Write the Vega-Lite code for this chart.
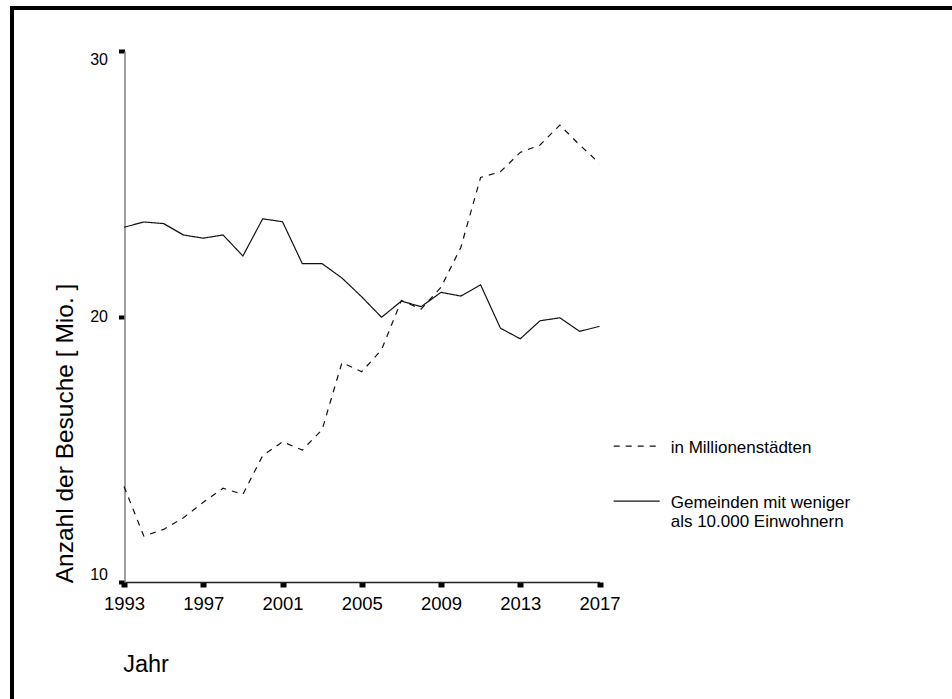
{
  "$schema": "https://vega.github.io/schema/vega-lite/v6.json",
  "autosize": "none",
  "width": 948,
  "height": 699,
  "padding": {"left": 12, "top": 8, "right": -8, "bottom": -8},
  "background": "white",
  "config": {
    "font": "Liberation Sans",
    "view": {"stroke": "black", "strokeWidth": 4},
    "axis": {"grid": false, "labelColor": "black", "titleColor": "black", "titleFontWeight": "normal"},
    "legend": {"padding": 0, "offset": 0}
  },
  "data": {
    "values": [
      {"Jahr": 1993, "Serie": "in Millionenstädten", "Besuche": 13.6},
      {"Jahr": 1994, "Serie": "in Millionenstädten", "Besuche": 11.73},
      {"Jahr": 1995, "Serie": "in Millionenstädten", "Besuche": 11.98},
      {"Jahr": 1996, "Serie": "in Millionenstädten", "Besuche": 12.42},
      {"Jahr": 1997, "Serie": "in Millionenstädten", "Besuche": 13.0},
      {"Jahr": 1998, "Serie": "in Millionenstädten", "Besuche": 13.53},
      {"Jahr": 1999, "Serie": "in Millionenstädten", "Besuche": 13.3},
      {"Jahr": 2000, "Serie": "in Millionenstädten", "Besuche": 14.76},
      {"Jahr": 2001, "Serie": "in Millionenstädten", "Besuche": 15.28},
      {"Jahr": 2002, "Serie": "in Millionenstädten", "Besuche": 14.97},
      {"Jahr": 2003, "Serie": "in Millionenstädten", "Besuche": 15.74},
      {"Jahr": 2004, "Serie": "in Millionenstädten", "Besuche": 18.26},
      {"Jahr": 2005, "Serie": "in Millionenstädten", "Besuche": 17.92},
      {"Jahr": 2006, "Serie": "in Millionenstädten", "Besuche": 18.75},
      {"Jahr": 2007, "Serie": "in Millionenstädten", "Besuche": 20.6},
      {"Jahr": 2008, "Serie": "in Millionenstädten", "Besuche": 20.28},
      {"Jahr": 2009, "Serie": "in Millionenstädten", "Besuche": 21.1},
      {"Jahr": 2010, "Serie": "in Millionenstädten", "Besuche": 22.6},
      {"Jahr": 2011, "Serie": "in Millionenstädten", "Besuche": 25.24},
      {"Jahr": 2012, "Serie": "in Millionenstädten", "Besuche": 25.45},
      {"Jahr": 2013, "Serie": "in Millionenstädten", "Besuche": 26.18},
      {"Jahr": 2014, "Serie": "in Millionenstädten", "Besuche": 26.46},
      {"Jahr": 2015, "Serie": "in Millionenstädten", "Besuche": 27.21},
      {"Jahr": 2016, "Serie": "in Millionenstädten", "Besuche": 26.46},
      {"Jahr": 2017, "Serie": "in Millionenstädten", "Besuche": 25.77},
      {"Jahr": 1993, "Serie": "Gemeinden mit weniger als 10.000 Einwohnern", "Besuche": 23.36},
      {"Jahr": 1994, "Serie": "Gemeinden mit weniger als 10.000 Einwohnern", "Besuche": 23.56},
      {"Jahr": 1995, "Serie": "Gemeinden mit weniger als 10.000 Einwohnern", "Besuche": 23.5},
      {"Jahr": 1996, "Serie": "Gemeinden mit weniger als 10.000 Einwohnern", "Besuche": 23.07},
      {"Jahr": 1997, "Serie": "Gemeinden mit weniger als 10.000 Einwohnern", "Besuche": 22.95},
      {"Jahr": 1998, "Serie": "Gemeinden mit weniger als 10.000 Einwohnern", "Besuche": 23.07},
      {"Jahr": 1999, "Serie": "Gemeinden mit weniger als 10.000 Einwohnern", "Besuche": 22.28},
      {"Jahr": 2000, "Serie": "Gemeinden mit weniger als 10.000 Einwohnern", "Besuche": 23.68},
      {"Jahr": 2001, "Serie": "Gemeinden mit weniger als 10.000 Einwohnern", "Besuche": 23.57},
      {"Jahr": 2002, "Serie": "Gemeinden mit weniger als 10.000 Einwohnern", "Besuche": 21.99},
      {"Jahr": 2003, "Serie": "Gemeinden mit weniger als 10.000 Einwohnern", "Besuche": 21.99},
      {"Jahr": 2004, "Serie": "Gemeinden mit weniger als 10.000 Einwohnern", "Besuche": 21.45},
      {"Jahr": 2005, "Serie": "Gemeinden mit weniger als 10.000 Einwohnern", "Besuche": 20.74},
      {"Jahr": 2006, "Serie": "Gemeinden mit weniger als 10.000 Einwohnern", "Besuche": 19.97},
      {"Jahr": 2007, "Serie": "Gemeinden mit weniger als 10.000 Einwohnern", "Besuche": 20.58},
      {"Jahr": 2008, "Serie": "Gemeinden mit weniger als 10.000 Einwohnern", "Besuche": 20.37},
      {"Jahr": 2009, "Serie": "Gemeinden mit weniger als 10.000 Einwohnern", "Besuche": 20.91},
      {"Jahr": 2010, "Serie": "Gemeinden mit weniger als 10.000 Einwohnern", "Besuche": 20.77},
      {"Jahr": 2011, "Serie": "Gemeinden mit weniger als 10.000 Einwohnern", "Besuche": 21.19},
      {"Jahr": 2012, "Serie": "Gemeinden mit weniger als 10.000 Einwohnern", "Besuche": 19.56},
      {"Jahr": 2013, "Serie": "Gemeinden mit weniger als 10.000 Einwohnern", "Besuche": 19.16},
      {"Jahr": 2014, "Serie": "Gemeinden mit weniger als 10.000 Einwohnern", "Besuche": 19.84},
      {"Jahr": 2015, "Serie": "Gemeinden mit weniger als 10.000 Einwohnern", "Besuche": 19.95},
      {"Jahr": 2016, "Serie": "Gemeinden mit weniger als 10.000 Einwohnern", "Besuche": 19.44},
      {"Jahr": 2017, "Serie": "Gemeinden mit weniger als 10.000 Einwohnern", "Besuche": 19.63}
    ]
  },
  "mark": {"type": "line", "color": "#111", "strokeWidth": 1.2},
  "encoding": {
    "x": {
      "field": "Jahr",
      "type": "quantitative",
      "scale": {"domain": [1993, 2017], "range": [112, 587.5], "nice": false, "zero": false},
      "axis": {
        "values": [1993, 1997, 2001, 2005, 2009, 2013, 2017],
        "format": "d",
        "offset": -125,
        "domainColor": "#222",
        "domainWidth": 1.3,
        "tickColor": "black",
        "tickSize": 5,
        "tickWidth": 6,
        "labelFontSize": 18.5,
        "labelPadding": 7,
        "labelFlush": false,
        "labelOverlap": false,
        "title": "Jahr",
        "titleFontSize": 23.5,
        "titleX": 110.7,
        "titleY": 89.7,
        "titleAlign": "left",
        "titleAnchor": "start",
        "titleBaseline": "alphabetic"
      }
    },
    "y": {
      "field": "Besuche",
      "type": "quantitative",
      "scale": {"domain": [10, 30], "range": [574, 43], "nice": false, "zero": false},
      "axis": {
        "values": [10, 20, 30],
        "offset": -112.5,
        "domainColor": "#888",
        "domainWidth": 1.6,
        "tickColor": "black",
        "tickSize": 6,
        "tickWidth": 4,
        "labelFontSize": 16,
        "labelPadding": 11,
        "labelFlush": true,
        "labelFlushOffset": 0,
        "title": "Anzahl der Besuche [ Mio. ]",
        "titleFontSize": 24.5,
        "titleAngle": -90,
        "titleX": -52.2,
        "titleY": 425,
        "titleAlign": "center",
        "titleBaseline": "alphabetic"
      }
    },
    "strokeDash": {
      "field": "Serie",
      "type": "nominal",
      "scale": {
        "domain": ["in Millionenstädten", "Gemeinden mit weniger als 10.000 Einwohnern"],
        "range": [[6, 6], [1, 0]]
      },
      "legend": {
        "orient": "none",
        "legendX": 600.7,
        "legendY": 407.7,
        "title": null,
        "symbolType": "M-1,0.28L1,0.28",
        "symbolSize": 2116,
        "symbolStrokeWidth": 1.2,
        "symbolStrokeColor": "#111",
        "symbolFillColor": "transparent",
        "labelFontSize": 17,
        "labelColor": "black",
        "labelOffset": 10,
        "labelBaseline": "top",
        "labelLimit": 400,
        "rowPadding": 15,
        "labelExpr": "datum.label == 'Gemeinden mit weniger als 10.000 Einwohnern' ? ['Gemeinden mit weniger', 'als 10.000 Einwohnern'] : datum.label"
      }
    }
  }
}
